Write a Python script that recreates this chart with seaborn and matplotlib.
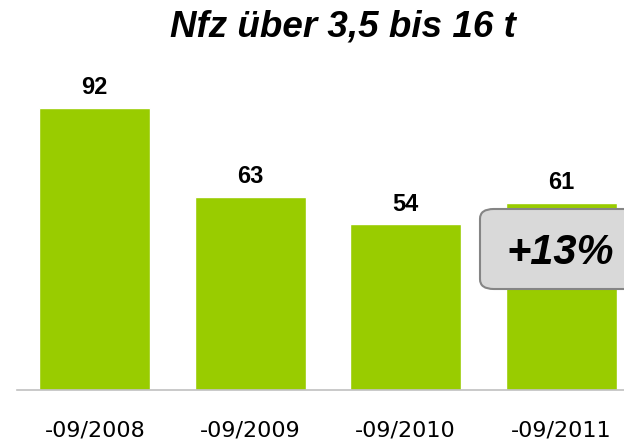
import matplotlib
matplotlib.use("Agg")
import matplotlib.pyplot as plt
import seaborn as sns
import pandas as pd
from matplotlib.patches import FancyBboxPatch

categories = ["-09/2008", "-09/2009", "-09/2010", "-09/2011"]
values = [92, 63, 54, 61]
title = "Nfz über 3,5 bis 16 t"
callout = "+13%"

sns.set_theme(style="white")
plt.rcParams['font.family'] = ['Liberation Sans', 'DejaVu Sans']
plt.rcParams['text.color'] = 'black'
plt.rcParams['xtick.color'] = 'black'

W, H = 624, 443
df = pd.DataFrame({"cat": categories, "val": values})

fig = plt.figure(figsize=(W / 100, H / 100), dpi=100)
ax = fig.add_axes([17 / W, 53 / H, 622 / W, 307 / H])
sns.barplot(data=df, x="cat", y="val", color="#99cc00", saturation=1,
            width=0.715, ax=ax)
ax.set_xlim(-0.5, 3.5)
ax.set_ylim(0, 100)
ax.set_xlabel("")
ax.set_ylabel("")
ax.set_yticks([])
for s in ["top", "right", "left"]:
    ax.spines[s].set_visible(False)
ax.spines["bottom"].set_color("#c0c0c0")
ax.spines["bottom"].set_linewidth(1.2)
ax.tick_params(axis="x", length=0, pad=33.5, labelsize=16,
               labelcolor="black")
for lbl in ax.get_xticklabels():
    lbl.set_verticalalignment("baseline")
    lbl.set_fontfamily("DejaVu Sans")

for i, v in enumerate(values):
    ax.text(i, v + 4.4, str(v), ha="center", va="baseline", fontsize=17,
            fontweight="bold", color="black")

fig.text(343 / W, 1 - 37 / H, title, ha="center", va="baseline",
         fontsize=26.5, fontweight="bold", fontstyle="italic", color="black")

# callout box
box = FancyBboxPatch((480 / W, 1 - 289 / H), 170 / W, 80 / H,
                     boxstyle="round,pad=0,rounding_size=0.022",
                     transform=fig.transFigure, facecolor="#d9d9d9",
                     edgecolor="#858585", linewidth=1.5, zorder=5)
fig.patches.append(box)
fig.text(560 / W, 1 - 264 / H, callout, ha="center", va="baseline",
         fontsize=30, fontweight="bold", fontstyle="italic", color="black",
         zorder=6)

fig.savefig("out.png", dpi=100)
